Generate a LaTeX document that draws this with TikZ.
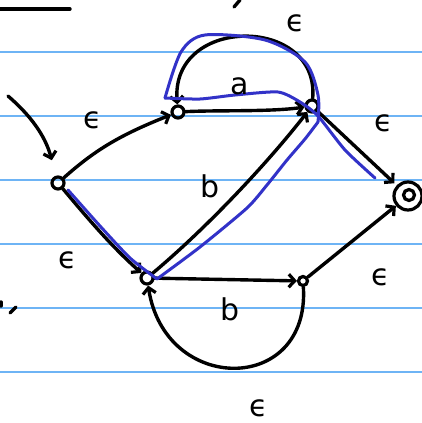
\documentclass[tikz,border=0pt]{standalone}
\usepackage{fontspec}
\newfontfamily\handfont{DejaVu Sans}
\usetikzlibrary{arrows.meta}
\begin{document}
\begin{tikzpicture}[x=1pt,y=-1pt,
  ink/.style={line width=3.4pt,line cap=round,line join=round,black},
  edge/.style={ink,-{Straight Barb[length=6pt,width=13pt,line width=3.2pt]}},
  st/.style={circle,draw,line width=3.2pt,minimum size=12pt,inner sep=0pt},
  sst/.style={circle,draw,line width=3.2pt,minimum size=9pt,inner sep=0pt},
  rule/.style={line width=1.4pt,color={rgb,255:red,110;green,180;blue,245}},
  hl/.style={line width=3pt,line cap=round,line join=round,color={rgb,255:red,50;green,50;blue,200}},
  lbl/.style={font=\handfont\fontsize{30}{30}\selectfont,inner sep=0pt}]
\useasboundingbox (0,0) rectangle (422,423);
% paper rules
\foreach \yy in {52,116,180,244,308,372} \draw[rule] (0,\yy) -- (422,\yy);
% stray marks
\draw[ink] (0,9) -- (70,9);
\draw[ink] (240,0) -- (234,7);
\draw[ink] (10,313) -- (16,307);
\draw[ink] (1,302) -- (1,306);
% states
\node[st] (q0) at (58,183) {};
\node[st] (q1) at (178,112) {};
\node[st] (q2) at (312,106) {};
\node[st] (q3) at (147,278) {};
\node[sst] (q4) at (303,281) {};
\node[circle,draw,line width=3.2pt,minimum size=28pt,inner sep=0pt] (f) at (408,196) {};
\node[circle,draw,line width=3.2pt,minimum size=11pt,inner sep=0pt] (fi) at (409,195) {};
% start arrow
\coordinate (s) at (8,96);
\draw[edge,shorten >=16pt] (s) .. controls (30,115) and (45,135) .. (q0);
% edges
\draw[edge] (q0) .. controls (95,150) and (120,135) .. (q1);
\draw[edge] (q1) .. controls (220,110) and (270,112) .. (q2);
\draw[edge] (q2) .. controls (320,15) and (170,15) .. (q1);
\draw[edge,shorten >=3pt] (q2) -- (f);
\draw[edge] (q0) .. controls (85,215) and (110,245) .. (q3);
\draw[edge] (q3) .. controls (210,225) and (270,160) .. (q2);
\draw[edge] (q3) -- (q4);
\draw[edge] (q4) -- (f);
\draw[edge] (q4) .. controls (310,395) and (165,395) .. (q3);
% highlight path
\draw[hl] plot[smooth,tension=0.4] coordinates {(68,190) (100,226) (130,258) (157,279)};
\draw[hl] plot[smooth,tension=0.4] coordinates {(157,279) (200,247) (247,208) (267,185) (287,160) (305,139) (318,122)};
\draw[hl] plot[smooth,tension=0.5] coordinates {(318,122) (318,95) (305,62) (265,40) (205,35) (181,52) (165,98)};
\draw[hl] plot[smooth,tension=0.4] coordinates {(165,98) (200,99) (235,95) (278,92) (300,102) (318,116) (345,150) (375,178)};
% labels
\node[lbl] (l1) at (93,120) {ϵ};
\node[lbl] (l2) at (240,86) {a};
\node[lbl] (l3) at (296,23) {ϵ};
\node[lbl] (l4) at (384,123) {ϵ};
\node[lbl] (l5) at (210,186) {b};
\node[lbl] (l6) at (68,260) {ϵ};
\node[lbl] (l7) at (230,309) {b};
\node[lbl] (l8) at (381,277) {ϵ};
\node[lbl] (l9) at (259,408) {ϵ};
\end{tikzpicture}
\end{document}
